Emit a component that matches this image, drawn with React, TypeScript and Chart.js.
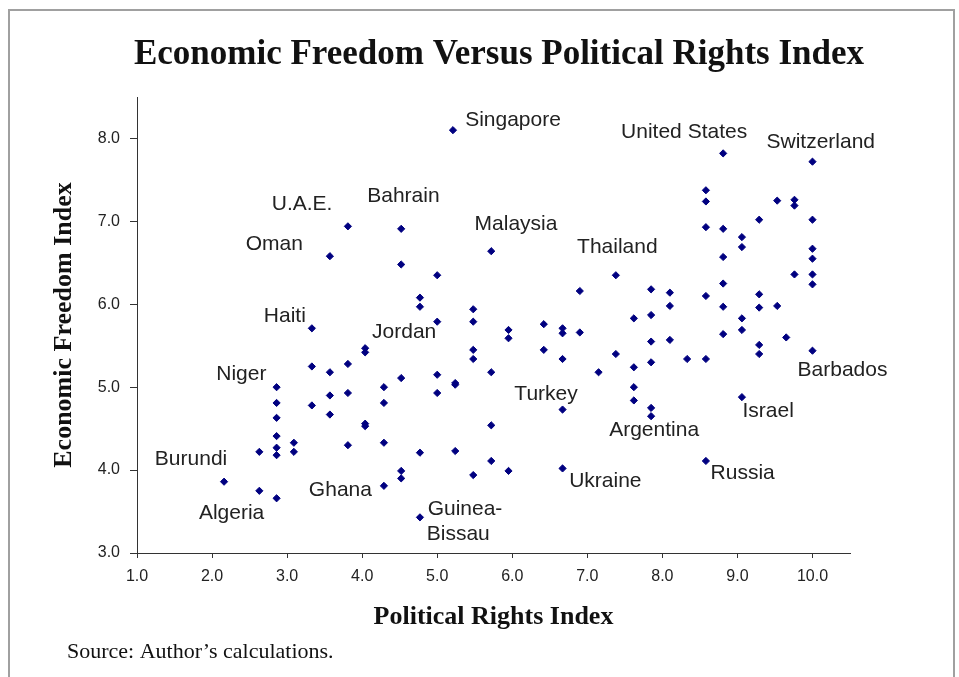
import React, { useEffect, useRef } from "react";
import { Chart, registerables } from "chart.js";

Chart.register(...registerables);

// Political Rights Index (x) and Economic Freedom Index (y), one entry per country
const politicalRights: number[] = [
  3.81, 3.57, 5.21, 4.52, 4.52, 5.0, 5.72, 7.38, 6.9, 8.81,
  10.0, 8.58, 8.58, 9.53, 9.76, 9.76, 9.29, 10.0, 8.58, 8.81,
  9.06, 9.06, 8.81, 10.0, 10.0, 10.0, 9.76, 8.81, 10.0, 7.85,
  3.33, 4.04, 4.04, 3.33, 3.57, 3.81, 2.86, 2.86, 2.86, 2.86,
  2.86, 2.86, 2.63, 3.09, 3.09, 3.33, 3.57, 3.57, 3.81, 4.04,
  4.04, 3.81, 2.16, 2.63, 2.86, 4.77, 4.77, 5.48, 5.0, 5.48,
  5.95, 5.95, 6.42, 6.67, 6.67, 6.9, 5.48, 5.48, 6.42, 6.67,
  7.38, 7.15, 5.72, 4.29, 4.29, 4.52, 5.0, 5.0, 5.24, 5.24,
  6.67, 5.72, 4.29, 4.77, 5.24, 5.72, 4.52, 4.52, 5.48, 5.95,
  6.67, 4.29, 4.77, 8.1, 8.1, 8.58, 8.81, 9.29, 9.29, 9.53,
  7.62, 7.85, 9.06, 9.06, 8.81, 7.85, 8.1, 9.65, 9.29, 9.29,
  10.0, 8.33, 8.58, 7.85, 7.62, 7.62, 7.62, 7.85, 7.85, 9.06,
  8.58,
];

const economicFreedom: number[] = [
  6.94, 6.58, 8.1, 6.91, 6.48, 6.35, 6.64, 6.35, 6.16, 7.82,
  7.72, 7.375, 7.24, 7.25, 7.26, 7.19, 7.02, 7.02, 6.93, 6.91,
  6.81, 6.69, 6.57, 6.67, 6.55, 6.36, 6.36, 6.25, 6.24, 6.18,
  5.71, 5.47, 5.42, 5.25, 5.18, 5.28, 5.0, 4.81, 4.63, 4.41,
  4.27, 4.18, 4.22, 4.33, 4.22, 4.78, 4.9, 4.67, 4.93, 4.56,
  4.53, 4.3, 3.86, 3.75, 3.66, 6.08, 5.97, 5.94, 5.79, 5.79,
  5.69, 5.59, 5.76, 5.71, 5.65, 5.66, 5.45, 5.34, 5.45, 5.34,
  5.4, 5.18, 5.18, 5.0, 4.81, 5.11, 5.15, 4.93, 5.05, 5.03,
  4.73, 4.54, 4.33, 4.21, 4.23, 4.11, 3.99, 3.9, 3.94, 3.99,
  4.02, 3.81, 3.43, 6.14, 5.98, 6.1, 5.97, 6.12, 5.96, 5.98,
  5.83, 5.87, 5.83, 5.69, 5.64, 5.55, 5.57, 5.6, 5.51, 5.4,
  5.44, 5.34, 5.34, 5.3, 5.24, 5.0, 4.84, 4.75, 4.65, 4.88,
  4.11,
];

// Country annotations: text, and the data coordinates where the text is centred
const labelTexts: string[] = [
  "Singapore", "United States", "Switzerland", "U.A.E.", "Oman", "Bahrain",
  "Malaysia", "Thailand", "Haiti", "Jordan", "Niger", "Burundi", "Algeria",
  "Ghana", "Guinea-", "Bissau", "Turkey", "Ukraine", "Argentina", "Israel",
  "Russia", "Barbados",
];
const labelX: number[] = [
  6.01, 8.29, 10.11, 3.2, 2.83, 4.55, 6.05, 7.4, 2.97, 4.56, 2.39, 1.72, 2.26,
  3.71, 5.37, 5.28, 6.45, 7.24, 7.89, 9.41, 9.07, 10.4,
];
const labelY: number[] = [
  8.22, 8.07, 7.96, 7.21, 6.72, 7.3, 6.96, 6.69, 5.86, 5.66, 5.16, 4.13, 3.48,
  3.76, 3.53, 3.23, 4.91, 3.86, 4.48, 4.71, 3.96, 5.21,
];

const chartTitle = "Economic Freedom Versus Political Rights Index";
const xTitle = "Political Rights Index";
const yTitle = "Economic Freedom Index";
const sourceNote = "Source: Author\u2019s calculations.";

const textPlugin = {
  id: "textPlugin",
  afterDraw(chart: any) {
    const { ctx, chartArea, scales } = chart;
    const xs = scales.x;
    const ys = scales.y;
    ctx.save();
    // title
    ctx.fillStyle = "#111";
    ctx.font = 'bold 35px "Liberation Serif"';
    ctx.textAlign = "center";
    ctx.textBaseline = "alphabetic";
    ctx.fillText(chartTitle, 499, 64);

    // axis titles
    ctx.font = 'bold 26px "Liberation Serif"';
    ctx.textBaseline = "middle";
    ctx.fillText(xTitle, (chartArea.left + chartArea.right) / 2, 617);
    ctx.save();
    ctx.translate(64, (chartArea.top + chartArea.bottom) / 2);
    ctx.rotate(-Math.PI / 2);
    ctx.fillText(yTitle, 0, 0);
    ctx.restore();

    // source
    ctx.font = '22px "Liberation Serif"';
    ctx.textAlign = "left";
    ctx.fillText(sourceNote, 67, 652);

    // country labels
    ctx.font = '21px "Liberation Sans"';
    ctx.fillStyle = "#222";
    ctx.textAlign = "center";
    ctx.textBaseline = "middle";
    labelTexts.forEach((t, i) => {
      ctx.fillText(t, xs.getPixelForValue(labelX[i]), ys.getPixelForValue(labelY[i]));
    });
    ctx.restore();
  },
};

export default function App() {
  const ref = useRef<HTMLCanvasElement | null>(null);

  useEffect(() => {
    if (!ref.current) return;
    const points = politicalRights.map((x, i) => ({ x, y: economicFreedom[i] }));
    const chart = new Chart(ref.current, {
      type: "scatter",
      data: {
        datasets: [
          {
            data: points,
            pointStyle: "rectRot",
            pointRadius: 3.6,
            pointHoverRadius: 3.6,
            backgroundColor: "#000080",
            borderColor: "#000080",
            borderWidth: 1,
          },
        ],
      },
      options: {
        responsive: false,
        maintainAspectRatio: false,
        animation: false,
        events: [],
        layout: { padding: { left: 60, right: 109, top: 97, bottom: 0 } },
        plugins: {
          legend: { display: false },
          tooltip: { enabled: false },
          title: { display: false },
        },
        scales: {
          x: {
            type: "linear",
            min: 1,
            max: 10.5,
            afterFit: (s: any) => {
              s.height = 124;
            },
            ticks: {
              stepSize: 1,
              includeBounds: false,
              autoSkip: false,
              maxRotation: 0,
              padding: 9,
              color: "#222",
              font: { family: "Liberation Sans", size: 16 },
              callback: (v: any) => Number(v).toFixed(1),
            },
            grid: { drawOnChartArea: false, drawTicks: true, tickLength: 5, color: "#333" },
            border: { display: true, color: "#333", width: 1 },
          },
          y: {
            type: "linear",
            min: 3,
            max: 8.5,
            afterFit: (s: any) => {
              s.width = 77;
            },
            ticks: {
              stepSize: 1,
              includeBounds: false,
              autoSkip: false,
              padding: 10,
              color: "#222",
              font: { family: "Liberation Sans", size: 16 },
              callback: (v: any) => Number(v).toFixed(1),
            },
            grid: { drawOnChartArea: false, drawTicks: true, tickLength: 7, color: "#333" },
            border: { display: true, color: "#333", width: 1 },
          },
        },
      },
      plugins: [textPlugin],
    });
    return () => chart.destroy();
  }, []);

  return (
    <div style={{ position: "fixed", left: 0, top: 0, width: 959, height: 677, background: "#fff", overflow: "hidden" }}>
      <div
        style={{
          position: "absolute",
          left: 8,
          top: 9,
          width: 947,
          height: 700,
          borderTop: "2px solid #a0a0a0",
          borderLeft: "2px solid #a0a0a0",
          borderRight: "2px solid #a0a0a0",
          boxSizing: "border-box",
        }}
      />
      <canvas
        ref={ref}
        width={959}
        height={677}
        style={{ position: "absolute", left: 0, top: 0, width: 959, height: 677 }}
      />
    </div>
  );
}
